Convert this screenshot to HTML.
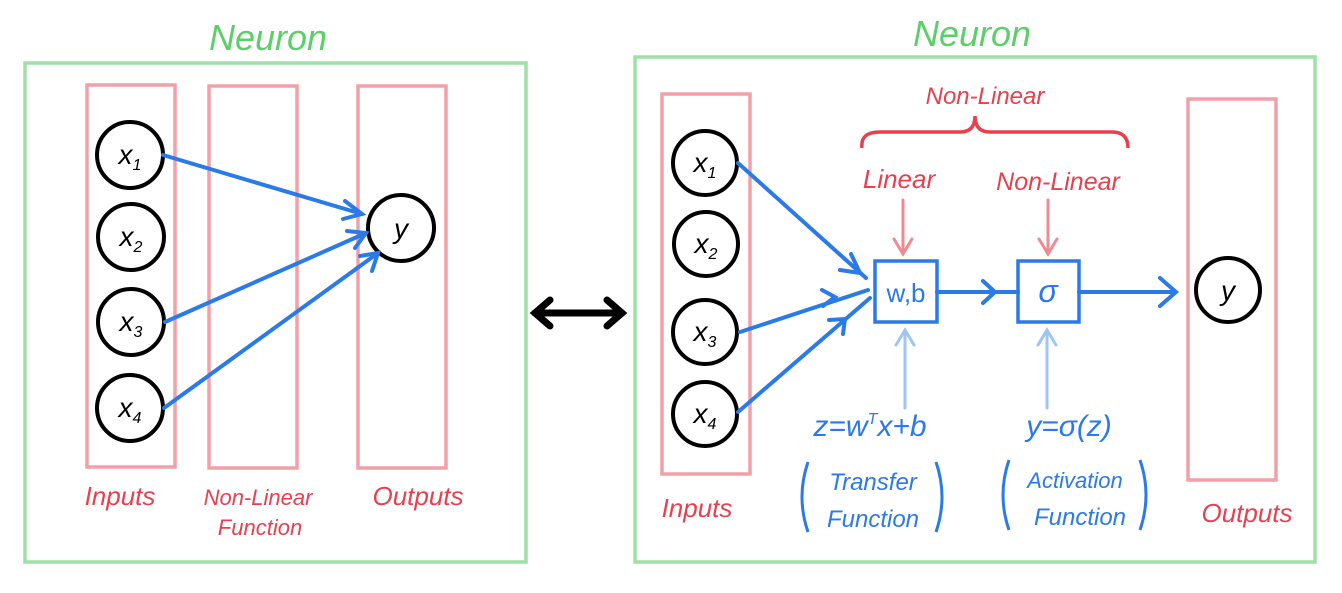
<!DOCTYPE html>
<html><head><meta charset="utf-8"><style>
html,body{margin:0;padding:0;background:#fff;}
svg{display:block;}
text{font-family:"Liberation Sans",sans-serif;}
</style></head><body>
<svg width="1342" height="593" viewBox="0 0 1342 593" xmlns="http://www.w3.org/2000/svg">
<g fill="none" stroke-width="3.5">
<rect x="25" y="63" width="501" height="499" stroke="#9fe0a6"/>
<rect x="635" y="57" width="680" height="505" stroke="#9fe0a6"/>
<g stroke="#f2a0a8">
<rect x="87" y="85" width="88" height="382"/>
<rect x="209" y="86" width="88" height="382"/>
<rect x="358" y="86" width="88" height="382"/>
<rect x="662" y="94" width="88" height="380"/>
<rect x="1188" y="99" width="88" height="381"/>
</g>
<g stroke="#000" stroke-width="4">
<circle cx="130" cy="155" r="33"/><circle cx="131" cy="237" r="33"/>
<circle cx="131" cy="322" r="33"/><circle cx="130" cy="408" r="33"/>
<circle cx="401" cy="228" r="33"/>
<circle cx="705" cy="163" r="32"/><circle cx="706" cy="244" r="32"/>
<circle cx="705" cy="332" r="32"/><circle cx="705" cy="414" r="32"/>
<circle cx="1228" cy="290" r="32"/>
</g>
<g stroke="#2a7ae8" stroke-width="4" stroke-linecap="round">
<line x1="163" y1="155" x2="362" y2="214"/><path d="M345,201 L362,214 L343,219"/>
<line x1="165" y1="322" x2="366" y2="233"/><path d="M347,231 L366,233 L355,248"/>
<line x1="164" y1="408" x2="378" y2="253"/><path d="M360,256 L378,253 L372,271"/>
<line x1="738" y1="163" x2="866" y2="278"/><path d="M851,254 L860,273 L840,270"/>
<line x1="740" y1="332" x2="868" y2="290"/><path d="M822,290 L835,297 L823,306"/>
<line x1="738" y1="412" x2="870" y2="298"/><path d="M829,320 L845,319 L843,334"/>
<rect x="875" y="261" width="62" height="61" stroke-width="3.5"/>
<rect x="1018" y="261" width="61" height="61" stroke-width="3.5"/>
<line x1="937" y1="292" x2="1018" y2="292"/><path d="M983,281 L995,292 L983,303"/>
<line x1="1079" y1="292" x2="1175" y2="292"/><path d="M1160,278 L1176,292 L1160,306"/>
</g>
<g stroke="#9ec6f5" stroke-width="3" stroke-linecap="round">
<line x1="905" y1="408" x2="905" y2="330"/><path d="M896,345 L905,330 L914,345"/>
<line x1="1047" y1="408" x2="1047" y2="330"/><path d="M1038,345 L1047,330 L1056,345"/>
</g>
<g stroke="#f08a92" stroke-width="3" stroke-linecap="round">
<line x1="903" y1="200" x2="903" y2="254"/><path d="M894,239 L903,254 L912,239"/>
<line x1="1048" y1="200" x2="1048" y2="254"/><path d="M1039,239 L1048,254 L1057,239"/>
</g>
<path d="M862,148 Q860,132 880,132 L960,132 Q975,132 975,116 Q975,132 990,132 L1112,132 Q1128,132 1128,148" stroke="#e8404e" stroke-width="3.5"/>
<g stroke="#000" stroke-width="7" stroke-linecap="round">
<line x1="535" y1="313" x2="622" y2="313"/>
<path d="M550,300 L535,313 L550,326"/><path d="M607,300 L622,313 L607,326"/>
</g>
<g stroke="#2a7ae8" stroke-width="3">
<path d="M808,462 Q796,497 808,532"/><path d="M936,462 Q948,497 936,532"/>
<path d="M1009,460 Q997,495 1009,530"/><path d="M1140,460 Q1152,495 1140,530"/>
</g>
</g>
<g font-style="italic" text-anchor="middle">
<g fill="#5ccf6a" font-size="36"><text x="268" y="50">Neuron</text><text x="972" y="46">Neuron</text></g>
<g fill="#000" font-size="28">
<text x="130" y="164">x<tspan font-size="16" dy="6">1</tspan></text>
<text x="131" y="246">x<tspan font-size="16" dy="6">2</tspan></text>
<text x="131" y="331">x<tspan font-size="16" dy="6">3</tspan></text>
<text x="130" y="417">x<tspan font-size="16" dy="6">4</tspan></text>
<text x="401" y="238">y</text>
<text x="705" y="172">x<tspan font-size="16" dy="6">1</tspan></text>
<text x="706" y="253">x<tspan font-size="16" dy="6">2</tspan></text>
<text x="705" y="341">x<tspan font-size="16" dy="6">3</tspan></text>
<text x="705" y="423">x<tspan font-size="16" dy="6">4</tspan></text>
<text x="1228" y="300">y</text>
</g>
<g fill="#e8404e">
<text x="120" y="505" font-size="26">Inputs</text>
<text x="258" y="505" font-size="22">Non-Linear</text>
<text x="260" y="535" font-size="22">Function</text>
<text x="418" y="505" font-size="26">Outputs</text>
<text x="697" y="517" font-size="26">Inputs</text>
<text x="1247" y="522" font-size="26">Outputs</text>
<text x="985" y="104" font-size="24">Non-Linear</text>
<text x="899" y="188" font-size="26">Linear</text>
<text x="1058" y="190" font-size="25">Non-Linear</text>
</g>
<g fill="#2a7ae8">
<text x="906" y="302" font-size="26" font-style="normal">w,b</text>
<text x="1048" y="302" font-size="32">σ</text>
<text x="870" y="436" font-size="30">z=w<tspan font-size="16" dy="-12">T</tspan><tspan dy="12">x+b</tspan></text>
<text x="1069" y="436" font-size="30">y=σ(z)</text>
<text x="873" y="490" font-size="24">Transfer</text>
<text x="873" y="527" font-size="24">Function</text>
<text x="1075" y="488" font-size="22">Activation</text>
<text x="1080" y="525" font-size="24">Function</text>
</g>
</g>
</svg>
</body></html>
